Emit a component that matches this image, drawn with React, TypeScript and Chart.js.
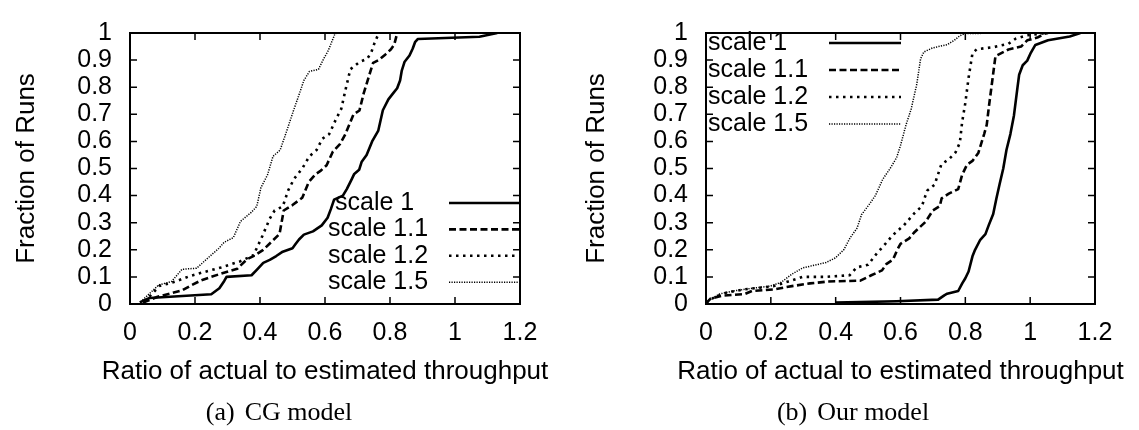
import React, { useEffect, useRef } from "react";
import { Chart, registerables } from "chart.js";

Chart.register(...registerables);

// ---------- labels / ticks ----------
const seriesLabels = ["scale 1", "scale 1.1", "scale 1.2", "scale 1.5"];
const xTickValues = [0, 0.2, 0.4, 0.6, 0.8, 1, 1.2];
const yTickValues = [0, 0.1, 0.2, 0.3, 0.4, 0.5, 0.6, 0.7, 0.8, 0.9, 1];
const xAxisTitle = "Ratio of actual to estimated throughput";
const yAxisTitle = "Fraction of Runs";
const captionTags = ["(a)", "(b)"];
const captionTexts = ["CG model", "Our model"];

// ---------- (a) CG model ----------
const cgScale1X = [0.03, 0.06, 0.25, 0.275, 0.29, 0.297, 0.374, 0.39, 0.41, 0.43, 0.45, 0.47, 0.5, 0.51, 0.52, 0.535, 0.563, 0.59, 0.608, 0.618, 0.628, 0.655, 0.667, 0.682, 0.69, 0.705, 0.713, 0.728, 0.745, 0.764, 0.778, 0.795, 0.81, 0.822, 0.831, 0.836, 0.845, 0.86, 0.87, 0.877, 0.886, 1.075, 1.13];
const cgScale1Y = [0.006, 0.022, 0.036, 0.058, 0.085, 0.1, 0.106, 0.126, 0.152, 0.163, 0.177, 0.193, 0.206, 0.222, 0.238, 0.256, 0.268, 0.29, 0.318, 0.35, 0.385, 0.4, 0.424, 0.46, 0.48, 0.495, 0.525, 0.55, 0.6, 0.64, 0.715, 0.755, 0.778, 0.796, 0.825, 0.86, 0.894, 0.917, 0.943, 0.966, 0.978, 0.986, 1.0];

const cgScale11X = [0.04, 0.085, 0.16, 0.19, 0.22, 0.275, 0.33, 0.36, 0.385, 0.41, 0.44, 0.46, 0.473, 0.5, 0.53, 0.55, 0.572, 0.585, 0.605, 0.624, 0.646, 0.662, 0.688, 0.706, 0.719, 0.735, 0.748, 0.765, 0.786, 0.803, 0.813, 0.819, 0.822];
const cgScale11Y = [0.005, 0.027, 0.05, 0.07, 0.088, 0.11, 0.13, 0.165, 0.18, 0.2, 0.235, 0.258, 0.345, 0.365, 0.392, 0.45, 0.48, 0.49, 0.512, 0.562, 0.59, 0.625, 0.7, 0.714, 0.777, 0.84, 0.89, 0.9, 0.921, 0.94, 0.957, 0.985, 1.0];

const cgScale12X = [0.045, 0.09, 0.14, 0.184, 0.228, 0.28, 0.34, 0.38, 0.407, 0.43, 0.445, 0.47, 0.487, 0.505, 0.53, 0.552, 0.574, 0.592, 0.613, 0.633, 0.65, 0.663, 0.678, 0.706, 0.73, 0.742, 0.752, 0.762, 0.768];
const cgScale12Y = [0.008, 0.066, 0.083, 0.103, 0.118, 0.135, 0.158, 0.18, 0.25, 0.315, 0.345, 0.36, 0.42, 0.462, 0.5, 0.545, 0.568, 0.61, 0.627, 0.68, 0.72, 0.79, 0.866, 0.893, 0.905, 0.927, 0.962, 0.99, 1.0];

const cgScale15X = [0.033, 0.088, 0.128, 0.16, 0.205, 0.24, 0.273, 0.29, 0.318, 0.34, 0.373, 0.39, 0.403, 0.423, 0.44, 0.462, 0.484, 0.502, 0.518, 0.535, 0.552, 0.58, 0.596, 0.61, 0.63, 0.635];
const cgScale15Y = [0.008, 0.07, 0.083, 0.128, 0.132, 0.17, 0.205, 0.228, 0.245, 0.305, 0.338, 0.36, 0.43, 0.476, 0.545, 0.568, 0.645, 0.71, 0.765, 0.825, 0.858, 0.866, 0.905, 0.935, 0.995, 1.0];

// ---------- (b) Our model ----------
const ourScale1X = [0.399, 0.588, 0.716, 0.735, 0.744, 0.778, 0.79, 0.8, 0.81, 0.822, 0.83, 0.846, 0.862, 0.872, 0.886, 0.896, 0.906, 0.917, 0.927, 0.939, 0.95, 0.961, 0.966, 0.977, 0.991, 1.002, 1.016, 1.055, 1.122, 1.155];
const ourScale1Y = [0.005, 0.01, 0.016, 0.032, 0.038, 0.048, 0.075, 0.095, 0.12, 0.176, 0.2, 0.237, 0.258, 0.29, 0.332, 0.39, 0.444, 0.5, 0.569, 0.627, 0.696, 0.8, 0.846, 0.881, 0.898, 0.927, 0.956, 0.973, 0.987, 1.0];

const ourScale11X = [0, 0.014, 0.053, 0.12, 0.142, 0.209, 0.265, 0.321, 0.376, 0.476, 0.51, 0.543, 0.556, 0.577, 0.59, 0.6, 0.627, 0.643, 0.677, 0.7, 0.721, 0.727, 0.749, 0.778, 0.79, 0.805, 0.822, 0.84, 0.858, 0.866, 0.873, 0.883, 0.893, 0.905, 0.933, 0.972, 0.991, 1.022, 1.044, 1.055];
const ourScale11Y = [0.002, 0.02, 0.031, 0.037, 0.048, 0.054, 0.066, 0.076, 0.083, 0.086, 0.106, 0.124, 0.147, 0.164, 0.2, 0.222, 0.242, 0.265, 0.303, 0.345, 0.361, 0.39, 0.407, 0.424, 0.476, 0.514, 0.528, 0.557, 0.627, 0.661, 0.731, 0.823, 0.915, 0.922, 0.939, 0.95, 0.973, 0.983, 0.997, 1.0];

const ourScale12X = [0, 0.026, 0.065, 0.12, 0.165, 0.209, 0.254, 0.298, 0.365, 0.443, 0.465, 0.5, 0.527, 0.549, 0.577, 0.61, 0.643, 0.666, 0.682, 0.705, 0.726, 0.75, 0.77, 0.783, 0.79, 0.8, 0.81, 0.822, 0.835, 0.888, 0.933, 0.955, 0.988, 1.033, 1.044];
const ourScale12Y = [0.005, 0.025, 0.043, 0.054, 0.06, 0.066, 0.083, 0.1, 0.1, 0.106, 0.135, 0.145, 0.187, 0.216, 0.255, 0.29, 0.335, 0.361, 0.418, 0.44, 0.515, 0.535, 0.56, 0.595, 0.67, 0.742, 0.835, 0.925, 0.94, 0.948, 0.96, 0.979, 0.991, 0.997, 1.0];

const ourScale15X = [0, 0.042, 0.09, 0.142, 0.198, 0.232, 0.265, 0.298, 0.37, 0.399, 0.425, 0.445, 0.466, 0.48, 0.505, 0.523, 0.545, 0.568, 0.588, 0.6, 0.617, 0.633, 0.65, 0.662, 0.672, 0.699, 0.744, 0.766, 0.783, 0.8, 0.95];
const ourScale15Y = [0.008, 0.037, 0.049, 0.058, 0.066, 0.08, 0.11, 0.133, 0.153, 0.17, 0.2, 0.245, 0.28, 0.33, 0.37, 0.401, 0.46, 0.5, 0.54, 0.585, 0.661, 0.72, 0.81, 0.905, 0.93, 0.945, 0.957, 0.973, 0.99, 0.998, 1.0];

// ---------- styles ----------
const lineStyles = [
  { dash: [] as number[], width: 2.6 },
  { dash: [7, 3.5], width: 2.6 },
  { dash: [2.5, 4.5], width: 2.6 },
  { dash: [1.2, 1.3], width: 1.5 },
];
const SANS = "'Liberation Sans', Arial, Helvetica, sans-serif";
const SERIF = "'Liberation Serif', 'Times New Roman', serif";

const fmt = (v: number) => String(Math.round(v * 10) / 10);
const toPoints = (xs: number[], ys: number[]) => xs.map((x, i) => ({ x, y: ys[i] }));

const framePlugin = {
  id: "gnuFrame",
  afterDatasetsDraw(chart: any, _args: any, opts: any) {
    const { ctx, chartArea: a, scales } = chart;
    ctx.save();
    ctx.strokeStyle = "#000";
    ctx.setLineDash([]);
    ctx.lineWidth = 1.5;
    const tl = 7;
    ctx.beginPath();
    for (const v of xTickValues) {
      const px = scales.x.getPixelForValue(v);
      ctx.moveTo(px, a.bottom);
      ctx.lineTo(px, a.bottom - tl);
      ctx.moveTo(px, a.top);
      ctx.lineTo(px, a.top + tl);
    }
    for (const v of yTickValues) {
      const py = scales.y.getPixelForValue(v);
      ctx.moveTo(a.left, py);
      ctx.lineTo(a.left + tl, py);
      ctx.moveTo(a.right, py);
      ctx.lineTo(a.right - tl, py);
    }
    ctx.stroke();
    ctx.lineWidth = 2;
    ctx.strokeRect(a.left, a.top, a.right - a.left, a.bottom - a.top);

    // x-axis title (drawn here so the canvas does not squeeze it to the plot width)
    ctx.fillStyle = "#000";
    ctx.font = `26px ${SANS}`;
    ctx.textAlign = "center";
    ctx.textBaseline = "middle";
    ctx.fillText(xAxisTitle, (scales.x.left + scales.x.right) / 2, opts.xTitleY);

    // key
    ctx.font = `25px ${SANS}`;
    ctx.textBaseline = "middle";
    ctx.textAlign = "left";
    chart.data.datasets.forEach((ds: any, i: number) => {
      const y = opts.y0 + i * opts.dy;
      ctx.fillText(ds.label, opts.textX + (opts.textShift ? opts.textShift[i] : 0), y);
      ctx.save();
      ctx.lineWidth = ds.borderWidth;
      ctx.setLineDash(ds.borderDash || []);
      ctx.lineCap = "butt";
      ctx.beginPath();
      ctx.moveTo(opts.lineX0, y);
      ctx.lineTo(opts.lineX1, y);
      ctx.stroke();
      ctx.restore();
    });
    ctx.restore();
  },
};

type PanelSpec = {
  series: [number[], number[]][];
  width: number;
  height: number;
  padTop: number;
  padRight: number;
  yAxisWidth: number;
  xAxisHeight: number;
  yTitlePad: number;
  legend: any;
};

function buildConfig(p: PanelSpec): any {
  return {
    type: "line",
    data: {
      datasets: p.series.map((s, i) => ({
        label: seriesLabels[i],
        data: toPoints(s[0], s[1]),
        borderColor: "#000",
        backgroundColor: "#000",
        borderWidth: lineStyles[i].width,
        borderDash: lineStyles[i].dash,
        borderCapStyle: "butt",
        borderJoinStyle: "round",
        pointRadius: 0,
        pointHoverRadius: 0,
        tension: 0,
        fill: false,
      })),
    },
    options: {
      responsive: false,
      animation: false,
      events: [],
      layout: { padding: { left: 0, top: p.padTop, right: p.padRight, bottom: 0 } },
      plugins: {
        legend: { display: false },
        tooltip: { enabled: false },
        gnuFrame: p.legend,
      },
      scales: {
        x: {
          type: "linear",
          min: 0,
          max: 1.2,
          afterBuildTicks: (s: any) => {
            s.ticks = xTickValues.map((value) => ({ value }));
          },
          afterFit: (s: any) => {
            s.height = p.xAxisHeight;
          },
          grid: { display: false, drawTicks: false },
          border: { display: false },
          ticks: {
            color: "#000",
            font: { family: SANS, size: 25 },
            padding: 14,
            maxRotation: 0,
            autoSkip: false,
            callback: (v: any) => fmt(Number(v)),
          },
          title: { display: false },
        },
        y: {
          type: "linear",
          min: 0,
          max: 1,
          afterBuildTicks: (s: any) => {
            s.ticks = yTickValues.map((value) => ({ value }));
          },
          afterFit: (s: any) => {
            s.width = p.yAxisWidth;
          },
          grid: { display: false, drawTicks: false },
          border: { display: false },
          ticks: {
            color: "#000",
            font: { family: SANS, size: 25 },
            padding: 18,
            autoSkip: false,
            callback: (v: any) => fmt(Number(v)),
          },
          title: {
            display: true,
            text: yAxisTitle,
            color: "#000",
            font: { family: SANS, size: 26 },
            padding: { top: p.yTitlePad, bottom: 0 },
          },
        },
      },
    },
    plugins: [framePlugin],
  };
}

function Panel({ spec, left }: { spec: PanelSpec; left: number }) {
  const ref = useRef<HTMLCanvasElement | null>(null);
  useEffect(() => {
    if (!ref.current) return;
    const chart = new Chart(ref.current, buildConfig(spec));
    return () => chart.destroy();
  }, []);
  return (
    <canvas
      ref={ref}
      width={spec.width}
      height={spec.height}
      style={{ position: "absolute", left, top: 0, width: spec.width, height: spec.height }}
    />
  );
}

const leftSpec: PanelSpec = {
  series: [
    [cgScale1X, cgScale1Y],
    [cgScale11X, cgScale11Y],
    [cgScale12X, cgScale12Y],
    [cgScale15X, cgScale15Y],
  ],
  width: 570,
  height: 400,
  padTop: 16,
  padRight: 50,
  yAxisWidth: 130,
  xAxisHeight: 96,
  yTitlePad: 11.4,
  legend: { textX: 328, textShift: [7, 0, 0, 0], lineX0: 449, lineX1: 519, y0: 203, dy: 26.4, xTitleY: 372 },
};

const rightSpec: PanelSpec = {
  series: [
    [ourScale1X, ourScale1Y],
    [ourScale11X, ourScale11Y],
    [ourScale12X, ourScale12Y],
    [ourScale15X, ourScale15Y],
  ],
  width: 563,
  height: 400,
  padTop: 16,
  padRight: 44,
  yAxisWidth: 130,
  xAxisHeight: 96,
  yTitlePad: 5.4,
  legend: { textX: 132, textShift: [0, 0, 0, 0], lineX0: 253, lineX1: 325, y0: 43, dy: 27, xTitleY: 372 },
};

function Caption({ center, i }: { center: number; i: number }) {
  return (
    <div
      style={{
        position: "absolute",
        left: center - 150,
        width: 300,
        top: 397,
        lineHeight: "30px",
        textAlign: "center",
        fontFamily: SERIF,
        fontSize: 26,
        color: "#000",
        whiteSpace: "nowrap",
      }}
    >
      <span style={{ marginRight: 10 }}>{captionTags[i]}</span>
      <span>{captionTexts[i]}</span>
    </div>
  );
}

export default function App() {
  return (
    <div
      style={{
        position: "absolute",
        left: 0,
        top: 0,
        width: 1139,
        height: 430,
        background: "#fff",
        overflow: "hidden",
      }}
    >
      <Panel spec={leftSpec} left={0} />
      <Panel spec={rightSpec} left={576} />
      <Caption center={279} i={0} />
      <Caption center={853} i={1} />
    </div>
  );
}
